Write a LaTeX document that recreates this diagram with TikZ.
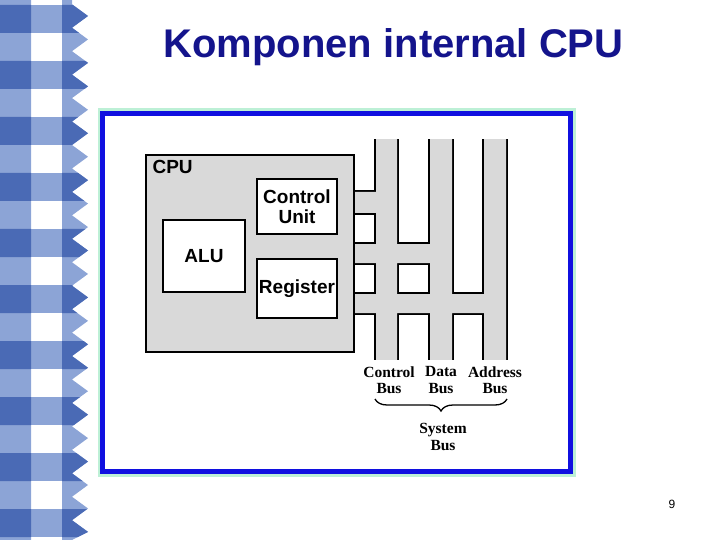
\documentclass[tikz,border=0pt]{standalone}
\usepackage{fontspec}
\setmainfont{Liberation Serif}
\setsansfont{Liberation Sans}
\usepackage{tikz}
\usetikzlibrary{decorations.pathreplacing}
\definecolor{titleblue}{HTML}{14148C}
\definecolor{frameblue}{HTML}{1010E0}
\definecolor{framehalo}{HTML}{BDF0D6}
\definecolor{checkdark}{HTML}{4A6AB5}
\definecolor{checklight}{HTML}{8CA4D6}
\definecolor{cpugray}{HTML}{D9D9D9}

\begin{document}
\begin{tikzpicture}[x=1pt, y=-1pt,
  unit/.style={draw=black, line width=2.4pt, fill=white, inner sep=0pt,
    align=center, font=\sffamily\bfseries\fontsize{19}{20}\selectfont},
  buslbl/.style={align=center, font=\rmfamily\bfseries\fontsize{15.5}{16.5}\selectfont},
  busedge/.style={draw=black, line width=4.6pt},
  busfill/.style={fill=cpugray}
]
  \useasboundingbox (0,0) rectangle (720,540);

  % checkered side strip
  \begin{scope}
    \clip (0,0) -- (72,0)
      \foreach \k in {0,...,22} {-- (72,{4.3+23.45*\k}) -- (88,{16+23.45*\k})}
      -- (72,540) -- (0,540) -- cycle;
    \fill[checklight] (0,0) rectangle (31,540) (62,0) rectangle (90,540);
    \foreach \k in {0,...,9} {
      \fill[checklight] (31,{5+56*\k}) rectangle (62,{33+56*\k});
      \fill[checkdark] (0,{5+56*\k}) rectangle (31,{33+56*\k})
        (62,{5+56*\k}) rectangle (90,{33+56*\k});
    }
  \end{scope}

  % title
  \node[anchor=base, text=titleblue, font=\sffamily\bfseries\fontsize{40}{44}\selectfont]
    (title) at (393.5,58) {Komponen internal CPU};

  % picture frame
  \draw[framehalo, line width=10pt] (102.5,113.5) rectangle (570.5,471.5);
  \draw[frameblue, line width=4.5pt, fill=white] (102.5,113.5) rectangle (570.5,471.5);

  % bus lines
  \begin{scope}
    \clip (340,140) rectangle (520,359);
    \path[busedge] (376,120) rectangle (397,380) (430,120) rectangle (452,380)
      (484,120) rectangle (506,380)
      (340,192) rectangle (397,213) (340,244) rectangle (452,263)
      (340,294) rectangle (506,313);
    \path[busfill] (376,120) rectangle (397,380) (430,120) rectangle (452,380)
      (484,120) rectangle (506,380)
      (340,192) rectangle (397,213) (340,244) rectangle (452,263)
      (340,294) rectangle (506,313);
  \end{scope}

  % cpu
  \node[draw=black, line width=2.2pt, fill=cpugray, minimum width=208pt,
    minimum height=197pt, inner sep=0pt] (cpu) at (250,253.5) {};
  \node[anchor=base west, font=\sffamily\bfseries\fontsize{19}{20}\selectfont]
    (cpulbl) at (149,174) {CPU};
  \node[unit, minimum width=80pt, minimum height=55pt] (cu) at (297,206.5) {Control\\Unit};
  \node[unit, minimum width=82pt, minimum height=72pt] (alu) at (204,256) {ALU};
  \node[unit, minimum width=80pt, minimum height=59pt] (reg) at (297,288.5) {Register};

  % bus labels
  \node[buslbl] (cbus) at (389,380) {Control\\Bus};
  \node[buslbl] (dbus) at (441,380) {Data\\Bus};
  \node[buslbl] (abus) at (495,380) {Address\\Bus};
  \draw[line width=1.3pt, decorate, decoration={brace, amplitude=12pt}]
    (507,399) -- (375,399) coordinate[midway] (bracemid);
  \node[buslbl] (sysbus) at (443,437) {System\\Bus};

  % page number
  \node[font=\sffamily\fontsize{12}{14}\selectfont] (pagenum) at (672,504) {9};
\end{tikzpicture}
\end{document}
